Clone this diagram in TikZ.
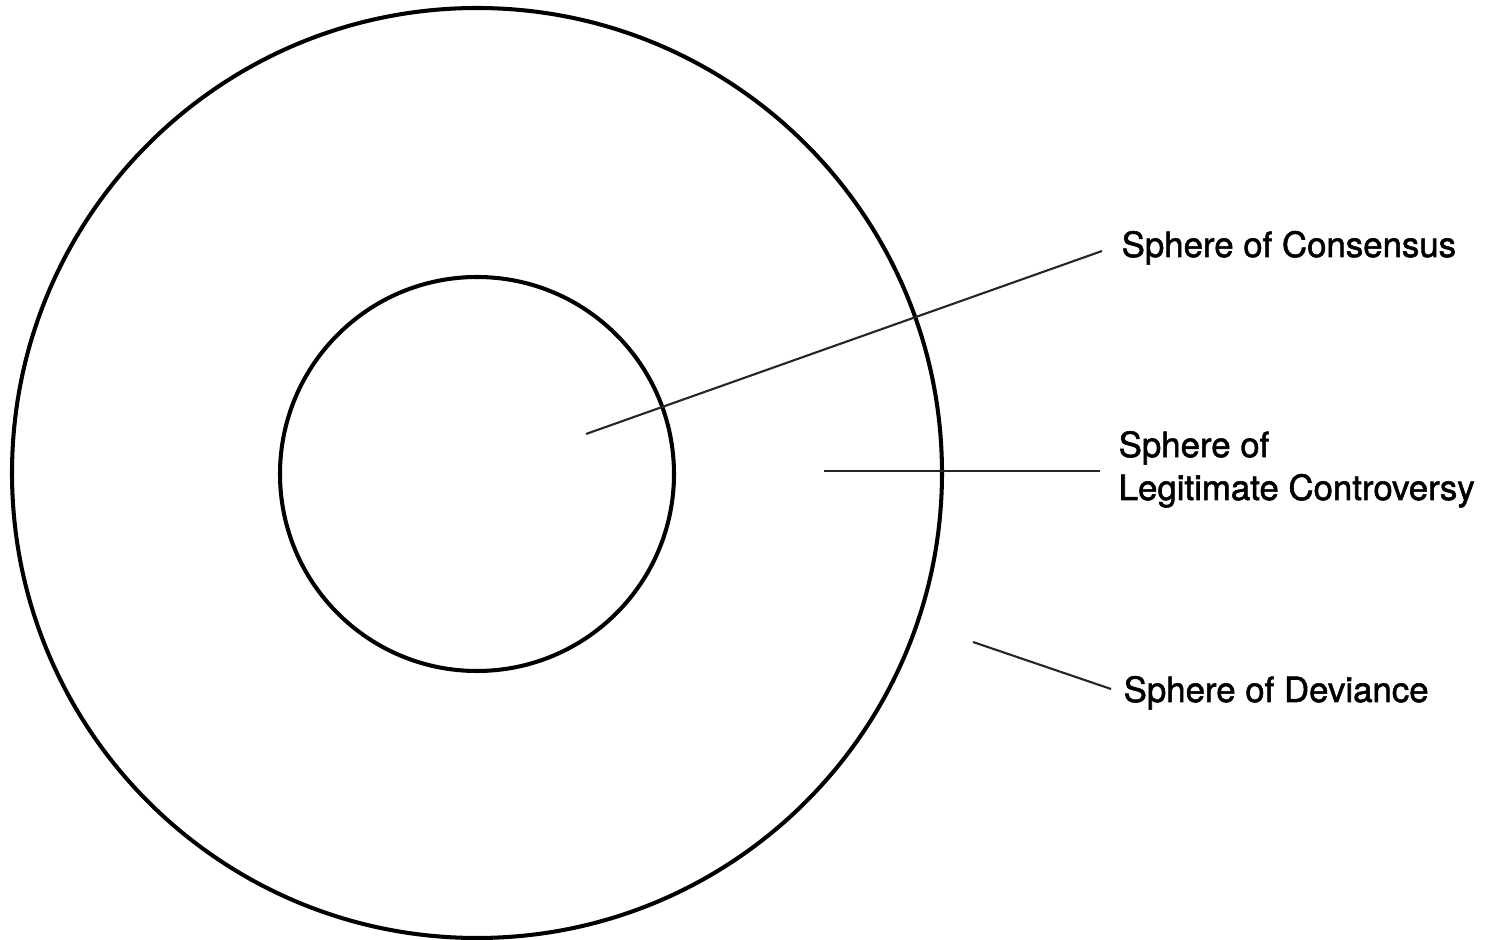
\documentclass[tikz,border=0pt]{standalone}
\usepackage{fontspec}
\setmainfont{TeX Gyre Heros}
\newfontfamily\labfont[FakeBold=1.6]{TeX Gyre Heros}
\begin{document}
\begin{tikzpicture}[x=0.01cm,y=-0.01cm,
  ring/.style={line width=1.15pt,black},
  leader/.style={line width=0.6pt,black!85},
  label/.style={anchor=base west,inner sep=0pt,font=\labfont\fontsize{9.9}{12.2}\selectfont,align=left}]
\useasboundingbox (0,0) rectangle (1499,940);
\draw[ring] (477,473) circle[radius=465];
\draw[ring] (477,474) circle[radius=197];
\node[label] (cons) at (1121,257) {Sphere of Consensus};
\node[label] (contr) at (1118,500) {Sphere of\\Legitimate Controversy};
\node[label] (dev) at (1123,702) {Sphere of Deviance};
\coordinate (c1) at (586,434);
\coordinate (c2) at (1102,251);
\coordinate (l1) at (824,471);
\coordinate (l2) at (1100,471);
\coordinate (d1) at (973,642);
\coordinate (d2) at (1111,689);
\draw[leader] (c1) -- (c2);
\draw[leader] (l1) -- (l2);
\draw[leader] (d1) -- (d2);
\end{tikzpicture}
\end{document}
